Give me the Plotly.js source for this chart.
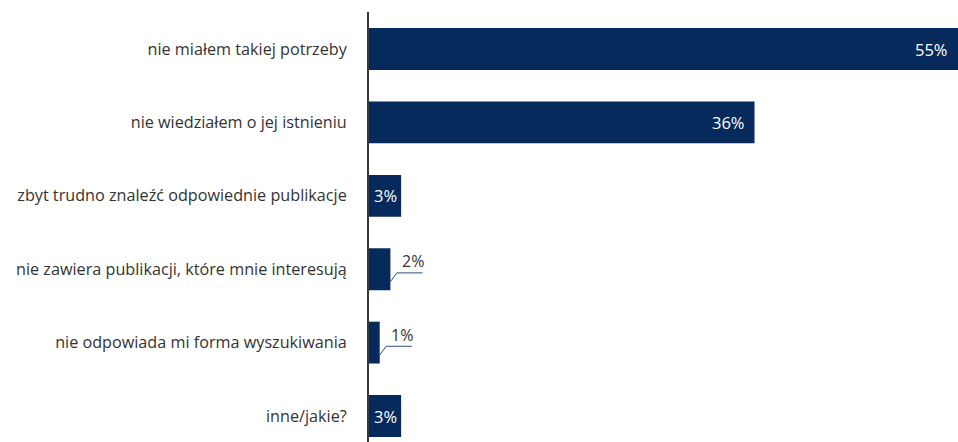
<!DOCTYPE html>
<html><head><meta charset="utf-8">
<script src="https://cdn.plot.ly/plotly-3.0.1.min.js"></script>
<style>html,body{margin:0;padding:0;background:#fff}#c{width:958px;height:442px}</style>
</head><body><div id="c"></div>
<script>
const categories = [
  "nie miałem takiej potrzeby",
  "nie wiedziałem o jej istnieniu",
  "zbyt trudno znaleźć odpowiednie publikacje",
  "nie zawiera publikacji, które mnie interesują",
  "nie odpowiada mi forma wyszukiwania",
  "inne/jakie?"
];
const values = [55, 36, 3, 2, 1, 3];
const labels = ["55%", "36%", "3%", "2%", "1%", "3%"];
// label placement: "end" = inside at bar end, "mid" = inside centred, "out" = outside with leader line
const labelPos = ["end", "end", "mid", "out", "out", "mid"];

const BAR = "#062a5b";
const FONT = "Open Sans, Noto Sans, sans-serif";

const idx = categories.map((c, i) => i);
const trace = {
  type: "bar", orientation: "h",
  y: idx, x: values,
  width: 0.57,
  marker: {color: BAR},
  hoverinfo: "skip"
};

const shapes = [], annotations = [];
idx.forEach(i => {
  const v = values[i];
  const pos = labelPos[i];
  if (pos === "end") {
    annotations.push({xref: "x", yref: "y", x: v, y: i, xanchor: "right", xshift: -8, text: labels[i],
      showarrow: false, font: {size: 16.5, color: "#ffffff", family: FONT}});
  } else if (pos === "mid") {
    annotations.push({xref: "x", yref: "y", x: v / 2, y: i, xanchor: "center", text: labels[i],
      showarrow: false, font: {size: 16.5, color: "#ffffff", family: FONT}});
  } else {
    const lc = "#2b4a7e";
    shapes.push({type: "line", xref: "x", yref: "y", x0: v, y0: i + 0.17, x1: v + 0.6, y1: i + 0.05, line: {color: lc, width: 1}});
    shapes.push({type: "line", xref: "x", yref: "y", x0: v + 0.6, y0: i + 0.05, x1: v + 3.0, y1: i + 0.05, line: {color: lc, width: 1}});
    annotations.push({xref: "x", yref: "y", x: v + 2.1, y: i - 0.11, text: labels[i], showarrow: false,
      font: {size: 16, color: "#333333", family: FONT}});
  }
});

const layout = {
  width: 958, height: 442,
  margin: {l: 369, r: 0, t: 12, b: 0},
  paper_bgcolor: "#fff", plot_bgcolor: "#fff",
  showlegend: false,
  xaxis: {range: [0, 55], visible: false, fixedrange: true},
  yaxis: {
    range: [5.354, -0.504],
    tickmode: "array", tickvals: idx, ticktext: categories,
    showline: true, linecolor: "#3a3a3a", linewidth: 2,
    showgrid: false, zeroline: false, ticks: "",
    ticklabelstandoff: 17,
    tickfont: {size: 16.2, color: "#333333", family: FONT}
  },
  shapes: shapes, annotations: annotations,
  font: {family: FONT}
};
Plotly.newPlot("c", [trace], layout, {displayModeBar: false, staticPlot: true});
</script></body></html>
